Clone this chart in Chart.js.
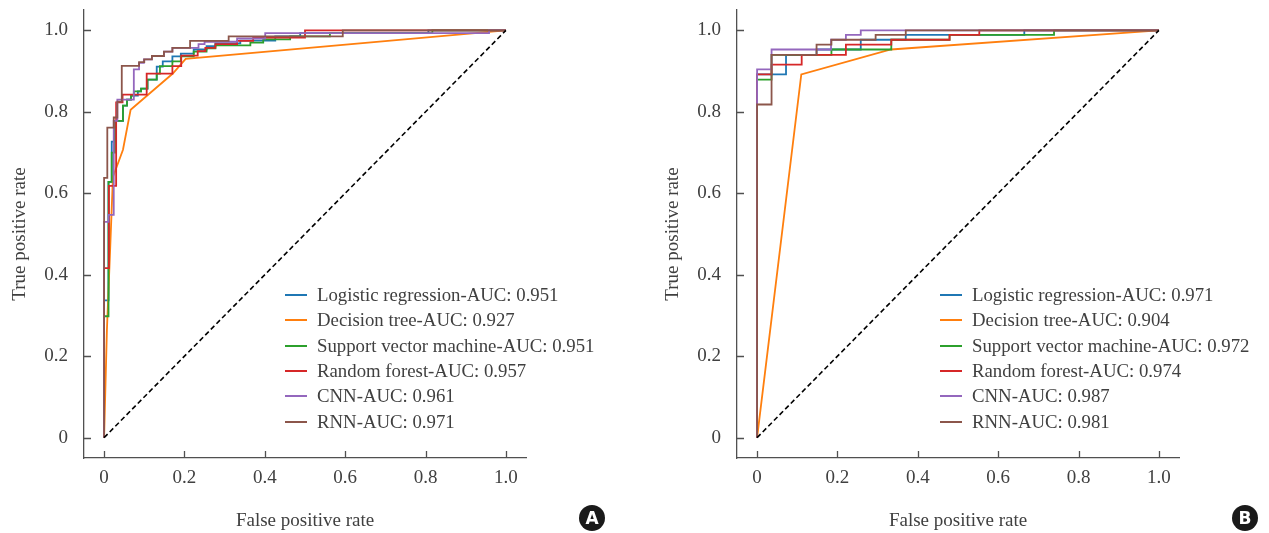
<!DOCTYPE html>
<html>
<head>
<meta charset="utf-8">
<script src="https://cdn.jsdelivr.net/npm/chart.js@4.4.1/dist/chart.umd.min.js"></script>
<style>
  html, body { margin: 0; padding: 0; background: #fff; overflow: hidden; }
  body { width: 1269px; height: 533px; position: relative; font-family: 'Liberation Serif', serif; }
  canvas { position: absolute; top: 0; }
  #cvA { left: 0; }
  #cvB { left: 653px; }
  .legend { position: absolute; color: #404040; font-size: 18.8px; }
  .row { position: absolute; left: 0; height: 20px; white-space: nowrap; }
  .swatch { position: absolute; left: 0; top: 9px; width: 22px; height: 2px; }
  .row span { position: absolute; left: 32px; top: 0; line-height: 20px; }
  .badge { position: absolute; width: 26px; height: 26px; border-radius: 50%; background: #1a1a1a; color: #fff;
           font: bold 17px 'DejaVu Sans', sans-serif; text-align: center; line-height: 26px; }
</style>
</head>
<body>
<canvas id="cvA" width="616" height="533"></canvas>
<canvas id="cvB" width="616" height="533"></canvas>
<div class="legend" id="legA" style="left:285px; top:285px;"></div>
<div class="legend" id="legB" style="left:940px; top:285px;"></div>
<div class="badge" style="left:579px; top:505px;">A</div>
<div class="badge" style="left:1232px; top:505px;">B</div>
<script>
// --- data ---
const modelNames = ['Logistic regression', 'Decision tree', 'Support vector machine', 'Random forest', 'CNN', 'RNN'];
const aucA = ['0.951', '0.927', '0.951', '0.957', '0.961', '0.971'];
const aucB = ['0.971', '0.904', '0.972', '0.974', '0.987', '0.981'];
const tickVals = [0, 0.2, 0.4, 0.6, 0.8, 1.0];
const tickLabels = ['0', '0.2', '0.4', '0.6', '0.8', '1.0'];
const chanceFpr = [0, 1];
const chanceTpr = [0, 1];

// panel A
const lrFprA = [0,0,.011,.011,.019,.019,.027,.027,.047,.047,.057,.057,.067,.067,.084,.084,.092,.092,.108,.108,.131,.131,.146,.146,.170,.170,.191,.191,.223,.223,.255,.255,.277,.277,.339,.339,.426,.426,.488,.488,.807,.807,1];
const lrTprA = [0,.337,.337,.628,.628,.727,.727,.778,.778,.815,.815,.830,.830,.840,.840,.850,.850,.857,.857,.879,.879,.911,.911,.924,.924,.936,.936,.943,.943,.953,.953,.961,.961,.968,.968,.975,.975,.985,.985,.993,.993,1,1];
const dtFprA = [0,.007,.015,.022,.047,.066,.171,.203,1];
const dtTprA = [0,.264,.461,.640,.707,.805,.894,.930,1];
const svmFprA = [0,0,.011,.011,.019,.019,.027,.027,.047,.047,.057,.057,.067,.067,.074,.074,.092,.092,.108,.108,.131,.131,.139,.139,.170,.170,.191,.191,.223,.223,.255,.255,.277,.277,.364,.364,.396,.396,.463,.463,.562,.562,.817,.817,1];
const svmTprA = [0,.298,.298,.628,.628,.700,.700,.778,.778,.815,.815,.830,.830,.840,.840,.850,.850,.857,.857,.879,.879,.894,.894,.912,.912,.924,.924,.936,.936,.948,.948,.956,.956,.963,.963,.970,.970,.978,.978,.985,.985,.993,.993,1,1];
const rfFprA = [0,0,.012,.012,.030,.030,.046,.046,.106,.106,.170,.170,.192,.192,.233,.233,.252,.252,.277,.277,.331,.331,.371,.371,.500,.500,1];
const rfTprA = [0,.416,.416,.618,.618,.823,.823,.842,.842,.894,.894,.912,.912,.938,.938,.949,.949,.957,.957,.966,.966,.974,.974,.982,.982,1,1];
const cnnFprA = [0,0,.011,.011,.024,.024,.033,.033,.074,.074,.087,.087,.099,.099,.119,.119,.149,.149,.170,.170,.235,.235,.250,.250,.331,.331,.401,.401,.958,.958,1];
const cnnTprA = [0,.530,.530,.547,.547,.778,.778,.830,.830,.904,.904,.920,.920,.929,.929,.937,.937,.948,.948,.957,.957,.966,.966,.972,.972,.980,.980,.993,.993,1,1];
const rnnFprA = [0,0,.008,.008,.024,.024,.033,.033,.044,.044,.087,.087,.100,.100,.119,.119,.149,.149,.170,.170,.214,.214,.310,.310,.594,.594,1];
const rnnTprA = [0,.638,.638,.761,.761,.786,.786,.825,.825,.913,.913,.922,.922,.929,.929,.937,.937,.948,.948,.957,.957,.974,.974,.985,.985,1,1];

// panel B
const lrFprB = [0,0,.072,.072,.148,.148,.258,.258,.370,.370,.665,.665,1];
const lrTprB = [0,.892,.892,.940,.940,.953,.953,.977,.977,.989,.989,1,1];
const dtFprB = [0,.110,.333,1];
const dtTprB = [0,.892,.953,1];
const svmFprB = [0,0,.036,.036,.185,.185,.334,.334,.479,.479,.739,.739,1];
const svmTprB = [0,.879,.879,.940,.940,.953,.953,.977,.977,.989,.989,1,1];
const rfFprB = [0,0,.036,.036,.111,.111,.221,.221,.334,.334,.479,.479,.553,.553,1];
const rfTprB = [0,.892,.892,.916,.916,.940,.940,.965,.965,.977,.977,.989,.989,1,1];
const cnnFprB = [0,0,.036,.036,.184,.184,.221,.221,.258,.258,1];
const cnnTprB = [0,.904,.904,.953,.953,.977,.977,.989,.989,1,1];
const rnnFprB = [0,0,.036,.036,.148,.148,.185,.185,.295,.295,.370,.370,1];
const rnnTprB = [0,.818,.818,.940,.940,.965,.965,.977,.977,.989,.989,1,1];

// --- style ---
const colors = ['#1f77b4', '#ff7f0e', '#2ca02c', '#d62728', '#9467bd', '#8c564b'];
const textColor = '#404040';
const axisColor = '#505050';
const serif = "'Liberation Serif', serif";

const pts = (xs, ys) => xs.map((v, i) => ({ x: v, y: ys[i] }));

// inward tick marks, like the matplotlib figure
const inwardTicks = {
  id: 'inwardTicks',
  afterDraw(chart) {
    const { ctx, chartArea, scales } = chart;
    ctx.save();
    ctx.strokeStyle = axisColor;
    ctx.lineWidth = 1.3;
    ctx.beginPath();
    tickVals.forEach(v => {
      const px = Math.round(scales.x.getPixelForValue(v)) + 0.5;
      ctx.moveTo(px, chartArea.bottom);
      ctx.lineTo(px, chartArea.bottom - 7);
      const py = Math.round(scales.y.getPixelForValue(v)) + 0.5;
      ctx.moveTo(chartArea.left, py);
      ctx.lineTo(chartArea.left + 7, py);
    });
    ctx.stroke();
    ctx.restore();
  }
};

function makeChart(id, curves) {
  const datasets = curves.map((c, i) => ({
    label: modelNames[i],
    data: pts(c[0], c[1]),
    borderColor: colors[i],
    borderWidth: 1.8,
    showLine: true,
    pointRadius: 0,
    order: curves.length - i
  }));
  datasets.push({
    label: 'chance',
    data: pts(chanceFpr, chanceTpr),
    borderColor: '#000',
    borderWidth: 1.6,
    borderDash: [5, 3],
    showLine: true,
    pointRadius: 0,
    order: -1
  });

  const axis = (title) => ({
    type: 'linear',
    min: -0.05,
    max: 1.05,
    afterBuildTicks: s => { s.ticks = tickVals.map(v => ({ value: v })); },
    ticks: {
      callback: (v, i) => tickLabels[i],
      font: { family: serif, size: 19 },
      color: textColor,
      maxRotation: 0,
      autoSkip: false
    },
    grid: { drawOnChartArea: false, drawTicks: false },
    border: { display: true, color: axisColor, width: 1.3 },
    title: { display: true, text: title, color: textColor, font: { family: serif, size: 19 } }
  });

  const x = axis('False positive rate');
  x.afterFit = s => { s.height = 75; s.paddingLeft = 0; s.paddingRight = 0; };
  x.ticks.padding = 9;
  x.title.padding = { top: 0, bottom: 0.5 };
  const y = axis('True positive rate');
  y.afterFit = s => { s.width = 84; s.paddingTop = 0; s.paddingBottom = 0; };
  y.ticks.padding = 16;
  y.title.padding = { top: 8.6, bottom: 0 };

  return new Chart(document.getElementById(id).getContext('2d'), {
    type: 'scatter',
    data: { datasets },
    options: {
      responsive: false,
      animation: false,
      layout: { padding: { left: 0, top: 10, right: 90, bottom: 0 } },
      scales: { x, y },
      plugins: { legend: { display: false }, tooltip: { enabled: false } }
    },
    plugins: [inwardTicks]
  });
}

function makeLegend(id, aucs) {
  const box = document.getElementById(id);
  modelNames.forEach((name, i) => {
    const row = document.createElement('div');
    row.className = 'row';
    row.style.top = (i * 25.3) + 'px';
    row.innerHTML = '<div class="swatch" style="background:' + colors[i] + '"></div><span>' + name + '-AUC: ' + aucs[i] + '</span>';
    box.appendChild(row);
  });
}

makeChart('cvA', [[lrFprA, lrTprA], [dtFprA, dtTprA], [svmFprA, svmTprA], [rfFprA, rfTprA], [cnnFprA, cnnTprA], [rnnFprA, rnnTprA]]);
makeChart('cvB', [[lrFprB, lrTprB], [dtFprB, dtTprB], [svmFprB, svmTprB], [rfFprB, rfTprB], [cnnFprB, cnnTprB], [rnnFprB, rnnTprB]]);
makeLegend('legA', aucA);
makeLegend('legB', aucB);
</script>
</body>
</html>
